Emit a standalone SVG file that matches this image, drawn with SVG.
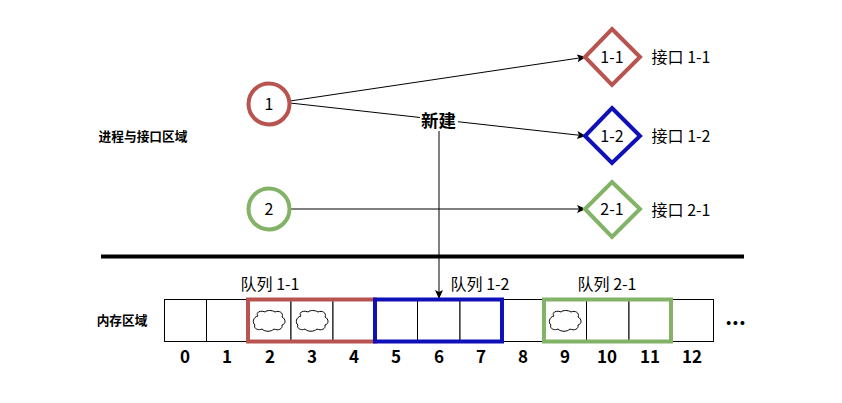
<svg xmlns="http://www.w3.org/2000/svg" width="842" height="403" viewBox="0 0 842 403">
<defs>
<marker id="arr" markerUnits="userSpaceOnUse" markerWidth="10" markerHeight="10" refX="9" refY="4" orient="auto"><path d="M0 0L9 4L0 8L2 4Z" fill="#000"/></marker>
<path id="cloud" d="M-11 -5C-14 -9 -8 -11 -4 -9C-2 -11 3 -11 6 -9C10 -11 15 -8 13 -4C17 -2 17 3 13 4C14 8 9 10 5 8C2 11 -4 11 -7 8C-11 10 -16 7 -14 4C-17 2 -16 -4 -11 -5Z" fill="#fff" stroke="#000" stroke-width="1"/>
</defs>
<style>
text{font-family:"Noto Sans CJK SC","Noto Sans",sans-serif;fill:#000;text-anchor:middle}
.t{font-size:16px}
.s{font-size:12.700px;font-weight:700}
.b{font-size:17px;font-weight:700}
.c{fill:#fff;stroke:#000;stroke-width:1}
.n{fill:none;stroke-width:4}
.sh{fill:#fff;stroke-width:4}
.red{stroke:#b85450}.blue{stroke:#1010b8}.green{stroke:#82b366}
.l{fill:none;stroke:#000;stroke-width:1}
</style>
<rect width="842" height="403" fill="#fff"/>
<g id="connectors">
<path class="l" d="M290 101L586 57" marker-end="url(#arr)"/>
<path class="l" d="M290 103L586 136" marker-end="url(#arr)"/>
<path class="l" d="M290 209L586 209" marker-end="url(#arr)"/>
<path class="l" d="M439 122L439 299" marker-end="url(#arr)"/>
<path d="M101 256.500H744" fill="none" stroke="#000" stroke-width="4"/>
</g>
<g id="edge-label"><rect x="420" y="112" width="38" height="19" fill="#fff"/><text x="438.500" y="127" style="font-size:17.500px;font-weight:700">新建</text></g>
<g id="p1"><circle class="sh red" cx="269" cy="104" r="20.500"/><text class="t" x="269" y="109.500">1</text></g>
<g id="p2"><circle class="sh green" cx="269" cy="209" r="20.500"/><text class="t" x="269" y="214.500">2</text></g>
<g id="i11"><path class="sh red" d="M612 29L640 57L612 85L585 57Z"/><text class="t" x="612" y="63">1-1</text></g>
<g id="i12"><path class="sh blue" d="M612 108L640 136L612 163L585 136Z"/><text class="t" x="612" y="142">1-2</text></g>
<g id="i21"><path class="sh green" d="M612 182L640 209L612 237L585 209Z"/><text class="t" x="612" y="215">2-1</text></g>
<g id="labels">
<text class="t" x="681" y="62.500">接口 1-1</text>
<text class="t" x="681" y="141.500">接口 1-2</text>
<text class="t" x="681" y="215.500">接口 2-1</text>
<text class="s" x="143" y="140.500">进程与接口区域</text>
<text class="s" x="122" y="324.500">内存区域</text>
<text class="t" x="270" y="289.500">队列 1-1</text>
<text class="t" x="480" y="289.500">队列 1-2</text>
<text class="t" x="607" y="289.500">队列 2-1</text>
<text x="735.500" y="324.500" style="font-size:21px;font-weight:700">...</text>
</g>
<g id="cells">
<rect class="c" x="164.500" y="299.500" width="42" height="42"/>
<rect class="c" x="206.500" y="299.500" width="42" height="42"/>
<rect class="c" x="248.500" y="299.500" width="42.500" height="42"/>
<rect class="c" x="291" y="299.500" width="42" height="42"/>
<rect class="c" x="333" y="299.500" width="42" height="42"/>
<rect class="c" x="375" y="299.500" width="42.500" height="42"/>
<rect class="c" x="417.500" y="299.500" width="42.500" height="42"/>
<rect class="c" x="460" y="299.500" width="42" height="42"/>
<rect class="c" x="502" y="299.500" width="42" height="42"/>
<rect class="c" x="544" y="299.500" width="42.500" height="42"/>
<rect class="c" x="586.500" y="299.500" width="42.500" height="42"/>
<rect class="c" x="629" y="299.500" width="42" height="42"/>
<rect class="c" x="671" y="299.500" width="42.500" height="42"/>
</g>
<g id="clouds">
<use href="#cloud" x="269" y="321"/><use href="#cloud" x="312" y="321"/><use href="#cloud" x="565" y="321"/>
</g>
<g id="queues">
<rect class="n red" x="248" y="299.500" width="127" height="42"/>
<rect class="n blue" x="375" y="299.500" width="127" height="42"/>
<rect class="n green" x="544" y="299.500" width="127" height="42"/>
</g>
<g id="idx">
<text class="b" x="185" y="363">0</text><text class="b" x="227" y="363">1</text><text class="b" x="270" y="363">2</text><text class="b" x="312" y="363">3</text><text class="b" x="354" y="363">4</text><text class="b" x="396" y="363">5</text><text class="b" x="439" y="363">6</text><text class="b" x="481" y="363">7</text><text class="b" x="523" y="363">8</text><text class="b" x="565" y="363">9</text><text class="b" x="607" y="363">10</text><text class="b" x="650" y="363">11</text><text class="b" x="692" y="363">12</text>
</g>
</svg>
